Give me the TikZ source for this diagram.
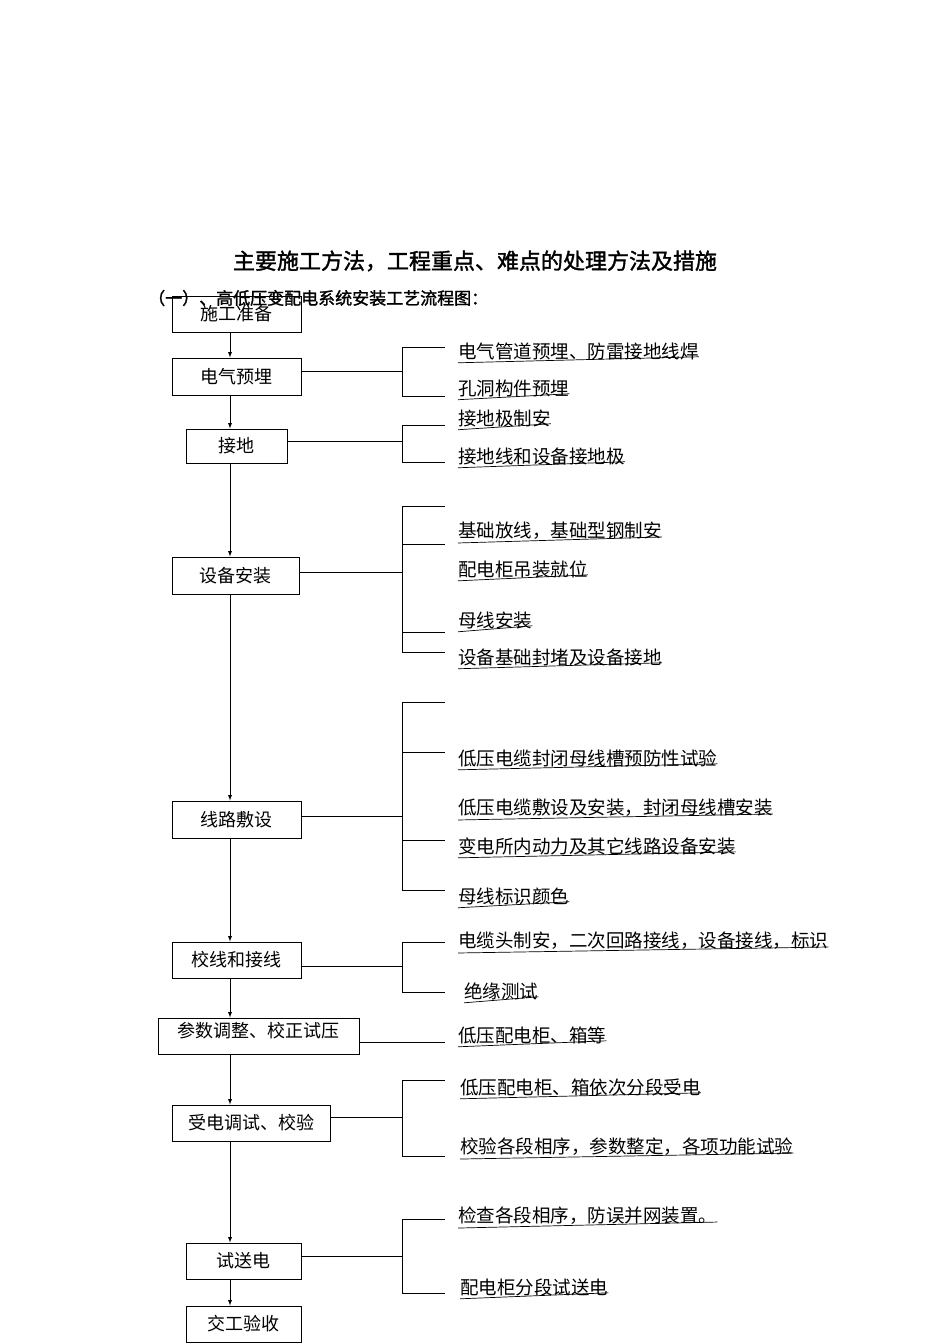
\documentclass[tikz,border=0pt]{standalone}
\usepackage{fontspec}
\setmainfont{Noto Sans CJK SC}
\newfontfamily\cjkb{Noto Sans CJK SC}[FakeBold=1.5]
\begin{document}
\begin{tikzpicture}[x=1pt,y=-1pt,
  box/.style={draw,line width=1pt,minimum height=36pt,inner sep=0pt,font=\fontsize{18}{20}\selectfont},
  lbl/.style={anchor=west,inner sep=0pt,font=\fontsize{18.5}{20}\selectfont},
  ln/.style={line width=0.9pt},
  arr/.style={ln,-latex}]
\fill[white] (0,0) rectangle (950,1344);
\node[font=\cjkb\fontsize{22}{24}\selectfont] at (475,261) {主要施工方法，工程重点、难点的处理方法及措施};
\node[anchor=west,font=\cjkb\fontsize{17}{20}\selectfont,inner sep=0pt] at (148,298) {（一）、高低压变配电系统安装工艺流程图：};
% boxes (x1,x2,y1,y2)
\node[box,minimum width=129pt] (b1) at (236.5,314) {施工准备};
\node[box,minimum width=129pt,minimum height=37pt] (b2) at (236.5,376.5) {电气预埋};
\node[box,minimum width=101pt,minimum height=34pt] (b3) at (236.5,446) {接地};
\node[box,minimum width=127pt,minimum height=37pt] (b4) at (235.5,575.5) {设备安装};
\node[box,minimum width=129pt,minimum height=37pt] (b5) at (236.5,819.5) {线路敷设};
\node[box,minimum width=129pt] (b6) at (236.5,960) {校线和接线};
\node[box,minimum width=201pt,text depth=12pt] (b7) at (258.5,1036) {参数调整、校正试压};
\node[box,minimum width=158pt] (b8) at (251,1123) {受电调试、校验};
\node[box,minimum width=115pt] (b9) at (243.5,1261) {试送电};
\node[box,minimum width=115pt] (b10) at (243.5,1324) {交工验收};
% vertical arrows
\foreach \a/\b in {b1/b2,b2/b3,b3/b4,b4/b5,b5/b6,b6/b7,b7/b8,b8/b9,b9/b10}
  \draw[arr] (\a.south -| 230,0) -- (\b.north -| 230,0);
% bracket macro: box, y of stem, top arm, bottom arm
\newcommand\brk[4]{%
  \draw[ln] (#1.east |- 0,#2) -- (402,#2);
  \draw[ln] (445,#3) -- (402,#3) -- (402,#4) -- (445,#4);}
\newcommand\arm[2]{\draw[ln] (402,#1) -- (445,#1);}
\newcommand\lab[4]{% name, x, y, text
  \node[lbl] (#1) at (#2,#3) {#4};
  \draw[line width=0.7pt] (#1.south west)++(0,3) -- ([yshift=3pt]#1.south east);}
% group 1
\brk{b2}{371}{347}{396}
\lab{t1}{458}{351}{电气管道预埋、防雷接地线焊}
\lab{t2}{458}{388}{孔洞构件预埋}
% group 2
\brk{b3}{441}{425}{462}
\lab{t3}{458}{418}{接地极制安}
\lab{t4}{458}{456}{接地线和设备接地极}
% group 3
\brk{b4}{572}{506}{652}
\arm{544}\arm{577}\arm{632}
\lab{t5}{458}{493}{土建基础、缆沟验收}
\lab{t6}{458}{531}{基础放线，基础型钢制安}
\lab{t7}{458}{569}{配电柜吊装就位}
\lab{t8}{458}{620}{母线安装}
\lab{t9}{458}{657}{设备基础封堵及设备接地}
% group 4
\brk{b5}{816}{702}{890}
\arm{752}\arm{802}\arm{840}
\lab{t10}{458}{708}{电缆桥架、支架制安}
\lab{t11}{458}{758}{低压电缆封闭母线槽预防性试验}
\lab{t12}{458}{808}{低压电缆敷设及安装，封闭母线槽安装}
\lab{t13}{458}{846}{变电所内动力及其它线路设备安装}
\lab{t14}{458}{896}{母线标识颜色}
% group 5
\brk{b6}{966}{942}{992}
\lab{t15}{458}{941}{电缆头制安，二次回路接线，设备接线，标识}
\lab{t16}{464}{991}{绝缘测试}
% group 6
\draw[ln] (b7.east |- 0,1042) -- (445,1042);
\lab{t17}{458}{1035}{低压配电柜、箱等}
% group 7
\brk{b8}{1117}{1080}{1156}
\lab{t18}{460}{1087}{低压配电柜、箱依次分段受电}
\lab{t19}{460}{1147}{校验各段相序，参数整定，各项功能试验}
% group 8
\brk{b9}{1256}{1219}{1293}
\lab{t20}{458}{1216}{检查各段相序，防误并网装置。}
\lab{t21}{460}{1287}{配电柜分段试送电}
\end{tikzpicture}
\end{document}
